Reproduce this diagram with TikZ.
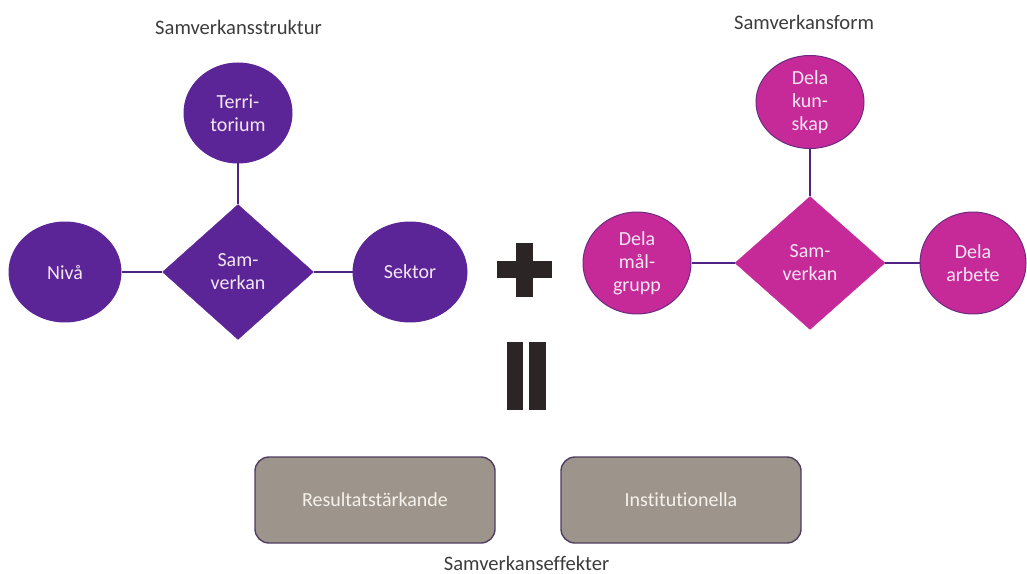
\documentclass[tikz,border=0pt]{standalone}
\usepackage{fontspec}
\setmainfont{Carlito}[Ligatures=NoCommon]
\usetikzlibrary{shapes.geometric}
\definecolor{purp}{HTML}{5C2597}
\definecolor{purpline}{HTML}{4E2384}
\definecolor{mag}{HTML}{C62A98}
\definecolor{magline}{HTML}{6E2A82}
\definecolor{lighttxt}{HTML}{F2E6F2}
\definecolor{boxfill}{HTML}{9D958B}
\definecolor{boxline}{HTML}{4F3D63}
\definecolor{boxtxt}{HTML}{F5F1EC}
\definecolor{signcol}{HTML}{2B2526}
\definecolor{titlecol}{HTML}{3C3C3C}
\tikzset{
  nodefont/.style={font=\fontsize{20bp}{23bp}\selectfont},
  pcirc/.style={ellipse, nodefont, fill=purp, draw=purp, line width=1pt, text=lighttxt, align=center, inner sep=0pt, minimum width=110bp, minimum height=100bp},
  pdia/.style={diamond, nodefont, fill=purp, draw=purp, text=lighttxt, align=center, inner sep=0pt, minimum width=151bp, minimum height=135bp},
  mcirc/.style={ellipse, nodefont, fill=mag, draw=magline, line width=1pt, text=lighttxt, align=center, inner sep=0pt, minimum width=110bp, minimum height=100bp},
  mdia/.style={diamond, nodefont, fill=mag, draw=mag, text=lighttxt, align=center, inner sep=0pt, minimum width=150bp, minimum height=133bp},
  conn/.style={draw=purpline, line width=2.8bp},
  effbox/.style={rectangle, rounded corners=14bp, fill=boxfill, draw=boxline, line width=1.4pt, text=boxtxt, font=\fontsize{20bp}{23bp}\selectfont, minimum width=240bp, minimum height=86bp, inner sep=0pt},
  titletxt/.style={text=titlecol, font=\fontsize{20.6bp}{24bp}\selectfont, inner sep=0pt}
}
\begin{document}
\begin{tikzpicture}[x=1bp,y=-1bp]
\useasboundingbox (0,0) rectangle (1027,574);
% left group
\node[titletxt] (t1) at (238.5,27) {Samverkansstruktur};
\node[pcirc, minimum width=108bp] (terr) at (238,113) {Terri-\\torium};
\node[pdia] (dia1) at (238,272) {Sam-\\verkan};
\node[pcirc, minimum width=112bp] (niva) at (65,272) {Nivå};
\node[pcirc, minimum width=114bp] (sektor) at (410,272) {Sektor};
\draw[conn] (terr.south) -- (dia1.north);
\draw[conn] (niva.east) -- (dia1.west);
\draw[conn] (dia1.east) -- (sektor.west);
% right group
\node[titletxt] (t2) at (804,22) {Samverkansform};
\node[mcirc, minimum width=108bp, minimum height=93bp] (kunskap) at (810,102) {Dela\\kun-\\skap};
\node[mdia] (dia2) at (810,263) {Sam-\\verkan};
\node[mcirc, minimum width=108bp, minimum height=102bp] (malgrupp) at (637,263) {Dela\\mål-\\grupp};
\node[mcirc, minimum width=106bp, minimum height=102bp] (arbete) at (973,263) {Dela\\arbete};
\draw[conn] (kunskap.south) -- (dia2.north);
\draw[conn] (malgrupp.east) -- (dia2.west);
\draw[conn] (dia2.east) -- (arbete.west);
% plus sign
\fill[signcol] (516,243) rectangle (533,297);
\fill[signcol] (497,261) rectangle (552,278);
% equals sign (vertical)
\fill[signcol] (507,342) rectangle (523,410);
\fill[signcol] (529,342) rectangle (546,410);
% effect boxes
\node[effbox] (res) at (375,500) {Resultatstärkande};
\node[effbox] (inst) at (681,500) {Institutionella};
\node[titletxt] (t3) at (526.5,563) {Samverkanseffekter};
\end{tikzpicture}
\end{document}
